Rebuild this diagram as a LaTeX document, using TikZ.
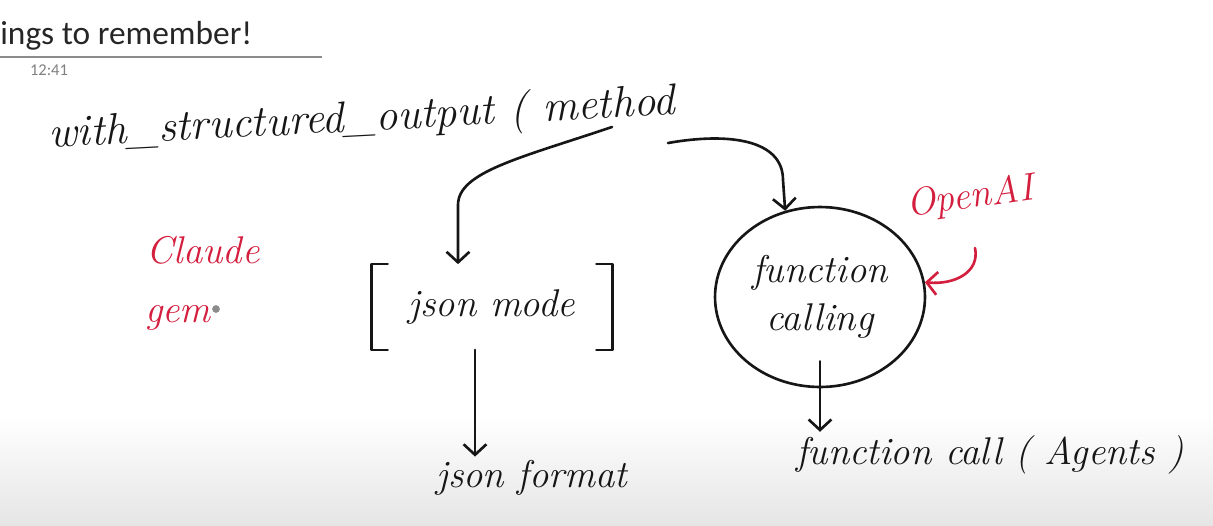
\documentclass[tikz,border=0pt]{standalone}
\usepackage{fontspec}
\newfontfamily\slidefont{Carlito}
\usetikzlibrary{arrows.meta,shapes.geometric,calc}
\definecolor{ink}{RGB}{22,22,22}
\definecolor{inkred}{RGB}{212,30,62}
\newcommand\handfont{\itshape\fontsize{22}{27}\selectfont}
\newcommand\bighand{\itshape\fontsize{25}{30}\selectfont}
\tikzset{
  slide/.style={font=\slidefont\fontsize{19}{22}\selectfont,text=black!85,inner sep=0pt},
  stamp/.style={font=\slidefont\fontsize{9.4}{11}\selectfont,text=black!50,inner sep=0pt},
  rule/.style={draw=black!45,line width=0.6pt},
  hand/.style={font=\handfont,text=ink,inner sep=2pt},
  note/.style={hand,text=inkred},
  brk/.style={draw=ink,line width=1.5pt,line cap=round,line join=round},
  flow/.style={draw=ink,line width=1.5pt,line cap=round,-{Straight Barb[length=6pt,width=13pt]}},
  redflow/.style={flow,draw=inkred}
}
\begin{document}
\begin{tikzpicture}[x=0.02cm,y=-0.02cm]
  \useasboundingbox (0,0) rectangle (1213,525);
  \shade[top color=white,bottom color=black!10] (0,415) rectangle (1213,525);

  % slide header
  \node[slide,anchor=west] (head) at (0,36) {ings to remember!};
  \draw[rule] (0,57) -- (322,57);
  \node[stamp] (clock) at (49,70) {12:41};

  % written notes
  \node[hand,font=\bighand,inner sep=0pt,rotate=3] (wso) at (362,120) {with\_structured\_output ( method};
  \coordinate (forkL) at (612,127);
  \coordinate (forkR) at (668,143);

  \node[hand,minimum width=4.8cm,minimum height=1.7cm] (jm) at (492,307) {json mode};
  \draw[brk] ([shift={(16,0)}]jm.north west) -- (jm.north west) -- (jm.south west) -- ([shift={(16,0)}]jm.south west);
  \draw[brk] ([shift={(-16,0)}]jm.north east) -- (jm.north east) -- (jm.south east) -- ([shift={(-16,0)}]jm.south east);

  \node[hand,ellipse,draw=ink,line width=1.5pt,minimum width=4.2cm,minimum height=3.6cm,align=center] (fc) at (820,297) {function\\calling};

  \node[hand] (jf) at (532,478) {json format};
  \node[hand] (fcall) at (990,455) {function call ( Agents )};

  \node[note,rotate=8] (oai) at (970,198) {OpenAI};
  \node[note] (cl) at (203,250) {Claude};
  \node[note] (gm) at (178,318) {gem};
  \coordinate (pen) at (216,309);
  \fill[black!45] (pen) circle (2.2pt);

  % arrows
  \draw[flow] (forkL) .. controls (520,158) and (458,172) .. (458,205) -- ($(jm.north)+(-34,0)$);
  \draw[flow] (forkR) .. controls (730,132) and (783,140) .. (783,180) -- (fc.112);
  \coordinate (jx) at (475,0);
  \draw[flow] (jm.south -| jx) -- (jf.north -| jx);
  \draw[flow] ([shift={(0,-27)}]fc.south) -- (fcall.north -| fc.south);
  \coordinate (hook) at (975,248);
  \draw[redflow] (hook) .. controls (980,272) and (955,285) .. (fc.8);
\end{tikzpicture}
\end{document}
